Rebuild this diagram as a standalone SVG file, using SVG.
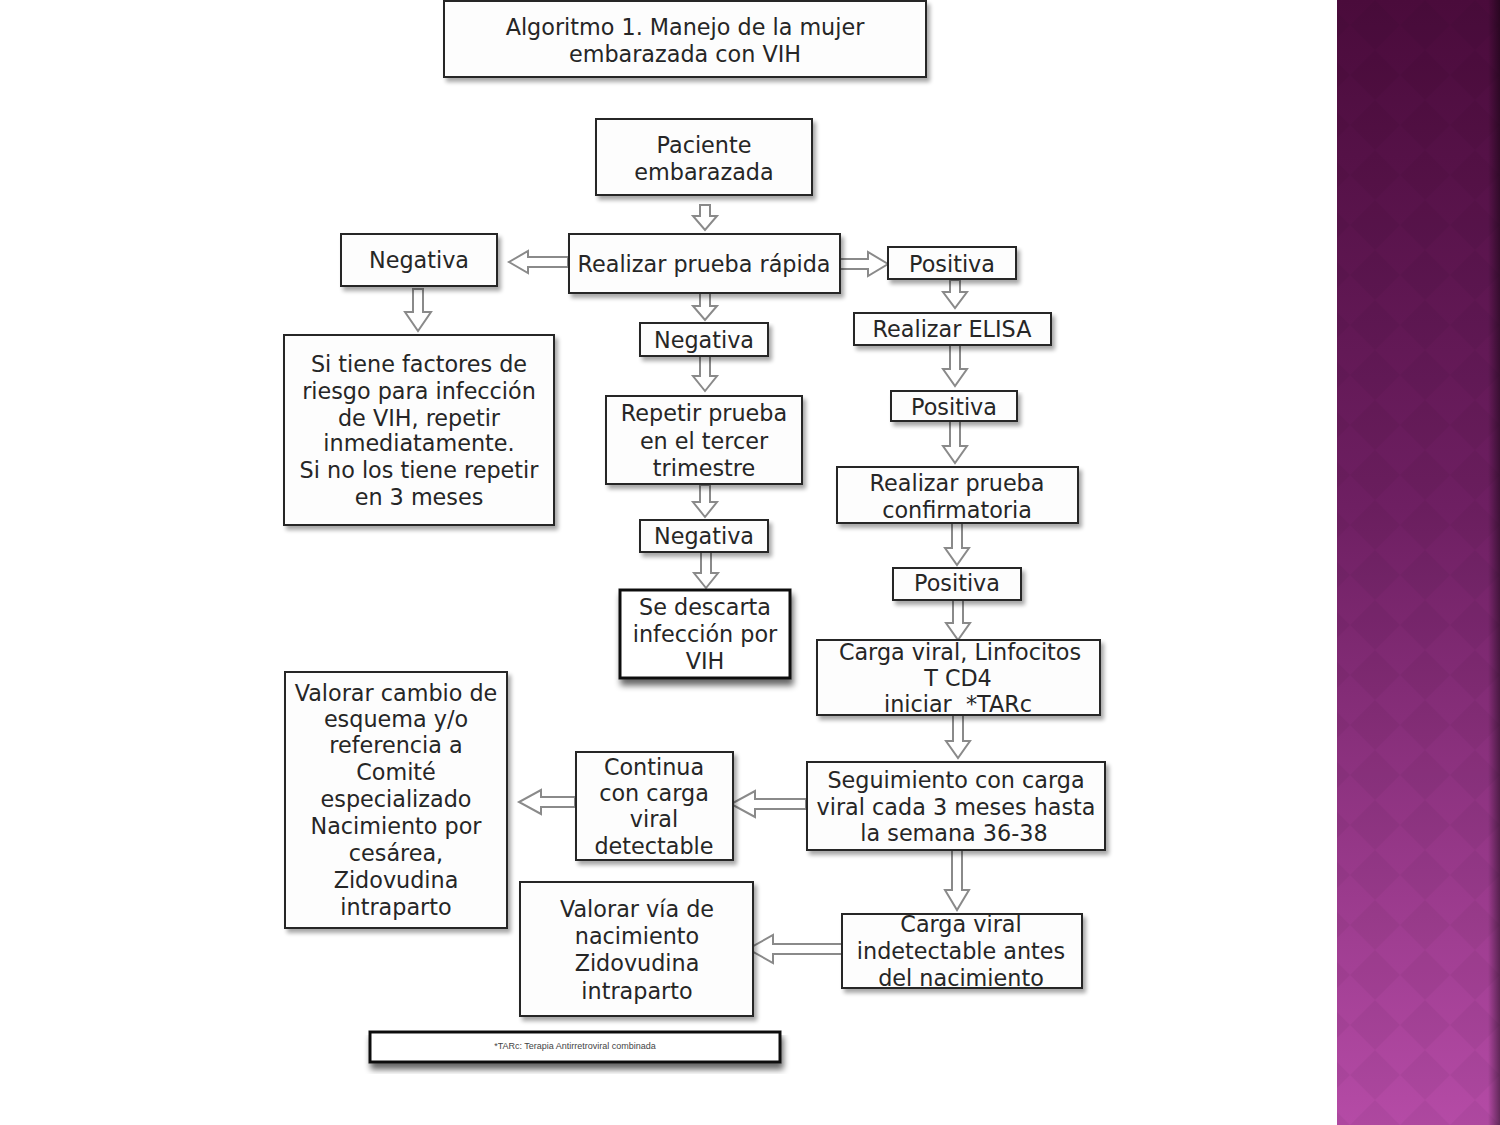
<svg xmlns="http://www.w3.org/2000/svg" width="1500" height="1125" viewBox="0 0 1500 1125">
<defs>
<linearGradient id="panelGrad" x1="0" y1="0" x2="0" y2="1">
<stop offset="0" stop-color="#4a0b3b"/>
<stop offset="0.45" stop-color="#6e1f62"/>
<stop offset="1" stop-color="#b54ba6"/>
</linearGradient>
<linearGradient id="edgeGrad" x1="0" y1="0" x2="1" y2="0">
<stop offset="0" stop-color="#000" stop-opacity="0"/>
<stop offset="1" stop-color="#000" stop-opacity="0.45"/>
</linearGradient>
<pattern id="diamonds" width="50" height="50" patternUnits="userSpaceOnUse">
<path d="M25,0 L50,25 L25,50 L0,25 Z" fill="#000" fill-opacity="0.04"/>
</pattern>
<filter id="shadow" x="-10%" y="-10%" width="130%" height="140%">
<feGaussianBlur in="SourceAlpha" stdDeviation="2"/>
<feOffset dx="3" dy="4" result="b"/>
<feComponentTransfer><feFuncA type="linear" slope="0.35"/></feComponentTransfer>
<feMerge><feMergeNode/><feMergeNode in="SourceGraphic"/></feMerge>
</filter>
<filter id="shadow2" x="-10%" y="-10%" width="130%" height="150%">
<feGaussianBlur in="SourceAlpha" stdDeviation="3"/>
<feOffset dx="2" dy="6" result="b"/>
<feComponentTransfer><feFuncA type="linear" slope="0.6"/></feComponentTransfer>
<feMerge><feMergeNode/><feMergeNode in="SourceGraphic"/></feMerge>
</filter>
</defs>
<style>
.box{fill:#fdfdfd;stroke:#262626;stroke-width:2;filter:url(#shadow)}
.boxb{fill:#ffffff;stroke:#111;stroke-width:3;filter:url(#shadow2)}
.t{font-family:"DejaVu Sans","Verdana",sans-serif;font-size:22.3px;fill:#262626;text-anchor:middle;dominant-baseline:central}
.small{font-family:"Liberation Sans",Arial,sans-serif;font-size:9px;fill:#444;text-anchor:middle;dominant-baseline:central}
.arr{fill:#ffffff;stroke:#8a8a8a;stroke-width:2;stroke-linejoin:miter}
</style>
<rect width="1500" height="1125" fill="#ffffff"/>
<g id="panel">
<rect x="1337" y="0" width="163" height="1125" fill="url(#panelGrad)"/>
<rect x="1337" y="0" width="163" height="1125" fill="url(#diamonds)"/>
<rect x="1488" y="0" width="12" height="1125" fill="url(#edgeGrad)"/>
</g>

<g id="connectors">
<path class="arr" d="M700,205 L710,205 L710,216 L717,216 L705,230 L693,216 L700,216 Z"/>
<path class="arr" d="M700,293 L710,293 L710,306 L717,306 L705,320 L693,306 L700,306 Z"/>
<path class="arr" d="M700,356 L710,356 L710,376 L717,376 L705,391 L693,376 L700,376 Z"/>
<path class="arr" d="M700,485 L710,485 L710,502 L717,502 L705,517 L693,502 L700,502 Z"/>
<path class="arr" d="M701,552 L711,552 L711,573 L718,573 L706,588 L694,573 L701,573 Z"/>
<path class="arr" d="M413,289 L423,289 L423,312 L431,312 L418,331 L405,312 L413,312 Z"/>
<path class="arr" d="M950,280 L960,280 L960,292 L967,292 L955,308 L943,292 L950,292 Z"/>
<path class="arr" d="M950,345 L960,345 L960,369 L967,369 L955,386 L943,369 L950,369 Z"/>
<path class="arr" d="M950,421 L960,421 L960,446 L967,446 L955,463 L943,446 L950,446 Z"/>
<path class="arr" d="M952,523 L962,523 L962,548 L969,548 L957,565 L945,548 L952,548 Z"/>
<path class="arr" d="M953,600 L963,600 L963,623 L970,623 L958,640 L946,623 L953,623 Z"/>
<path class="arr" d="M953,715 L963,715 L963,741 L970,741 L958,758 L946,741 L953,741 Z"/>
<path class="arr" d="M952,850 L962,850 L962,890 L969,890 L957,910 L945,890 L952,890 Z"/>
<path class="arr" d="M568,257 L568,267 L528,267 L528,273 L509,262 L528,251 L528,257 Z"/>
<path class="arr" d="M838,259 L838,269 L868,269 L868,276 L888,264 L868,252 L868,259 Z"/>
<path class="arr" d="M806,799 L806,809 L755,809 L755,817 L731,804 L755,791 L755,799 Z"/>
<path class="arr" d="M575,797 L575,807 L541,807 L541,814 L519,802 L541,790 L541,797 Z"/>
<path class="arr" d="M842,944 L842,954 L773,954 L773,963 L748,949 L773,935 L773,944 Z"/>
</g>

<g id="title">
<rect class="box" x="444" y="1" width="482" height="76"/>
<text class="t"><tspan x="685" y="27">Algoritmo 1. Manejo de la mujer</tspan><tspan x="685" y="54">embarazada con VIH</tspan></text>
</g>
<g id="paciente">
<rect class="box" x="596" y="119" width="216" height="76"/>
<text class="t"><tspan x="704" y="145">Paciente</tspan><tspan x="704" y="172">embarazada</tspan></text>
</g>
<g id="prueba-rapida">
<rect class="box" x="569" y="234" width="271" height="59"/>
<text class="t" x="704" y="264">Realizar prueba rápida</text>
</g>
<g id="negativa-izq">
<rect class="box" x="341" y="234" width="156" height="52"/>
<text class="t" x="419" y="260">Negativa</text>
</g>
<g id="factores">
<rect class="box" x="284" y="335" width="270" height="190"/>
<text class="t"><tspan x="419" y="364">Si tiene factores de</tspan><tspan x="419" y="391">riesgo para infección</tspan><tspan x="419" y="418">de VIH, repetir</tspan><tspan x="419" y="443">inmediatamente.</tspan><tspan x="419" y="470">Si no los tiene repetir</tspan><tspan x="419" y="497">en 3 meses</tspan></text>
</g>
<g id="negativa-1">
<rect class="box" x="640" y="323" width="128" height="33"/>
<text class="t" x="704" y="340">Negativa</text>
</g>
<g id="repetir">
<rect class="box" x="606" y="396" width="196" height="88"/>
<text class="t"><tspan x="704" y="413">Repetir prueba</tspan><tspan x="704" y="441">en el tercer</tspan><tspan x="704" y="468">trimestre</tspan></text>
</g>
<g id="negativa-2">
<rect class="box" x="640" y="520" width="128" height="32"/>
<text class="t" x="704" y="536">Negativa</text>
</g>
<g id="descarta">
<rect class="boxb" x="620" y="590" width="170" height="88"/>
<text class="t"><tspan x="705" y="607">Se descarta</tspan><tspan x="705" y="634">infección por</tspan><tspan x="705" y="661">VIH</tspan></text>
</g>
<g id="positiva-1">
<rect class="box" x="888" y="247" width="128" height="32"/>
<text class="t" x="952" y="264">Positiva</text>
</g>
<g id="elisa">
<rect class="box" x="854" y="313" width="197" height="32"/>
<text class="t" x="952" y="329">Realizar ELISA</text>
</g>
<g id="positiva-2">
<rect class="box" x="891" y="391" width="126" height="30"/>
<text class="t" x="954" y="407">Positiva</text>
</g>
<g id="confirmatoria">
<rect class="box" x="837" y="467" width="241" height="56"/>
<text class="t"><tspan x="957" y="483">Realizar prueba</tspan><tspan x="957" y="510">confirmatoria</tspan></text>
</g>
<g id="positiva-3">
<rect class="box" x="893" y="568" width="128" height="32"/>
<text class="t" x="957" y="583">Positiva</text>
</g>
<g id="carga-viral">
<rect class="box" x="817" y="640" width="283" height="75"/>
<text class="t"><tspan x="960" y="652">Carga viral, Linfocitos</tspan><tspan x="958" y="678">T CD4</tspan><tspan x="958" y="704">iniciar&#160; *TARc</tspan></text>
</g>
<g id="seguimiento">
<rect class="box" x="807" y="762" width="298" height="88"/>
<text class="t"><tspan x="956" y="780">Seguimiento con carga</tspan><tspan x="956" y="807">viral cada 3 meses hasta</tspan><tspan x="954" y="833">la semana 36-38</tspan></text>
</g>
<g id="continua">
<rect class="box" x="576" y="752" width="157" height="108"/>
<text class="t"><tspan x="654" y="767">Continua</tspan><tspan x="654" y="793">con carga</tspan><tspan x="654" y="819">viral</tspan><tspan x="654" y="846">detectable</tspan></text>
</g>
<g id="valorar-cambio">
<rect class="box" x="285" y="672" width="222" height="256"/>
<text class="t"><tspan x="396" y="693">Valorar cambio de</tspan><tspan x="396" y="719">esquema y/o</tspan><tspan x="396" y="745">referencia a</tspan><tspan x="396" y="772">Comité</tspan><tspan x="396" y="799">especializado</tspan><tspan x="396" y="826">Nacimiento por</tspan><tspan x="396" y="853">cesárea,</tspan><tspan x="396" y="880">Zidovudina</tspan><tspan x="396" y="907">intraparto</tspan></text>
</g>
<g id="indetectable">
<rect class="box" x="842" y="914" width="240" height="74"/>
<text class="t"><tspan x="961" y="924">Carga viral</tspan><tspan x="961" y="951">indetectable antes</tspan><tspan x="961" y="978">del nacimiento</tspan></text>
</g>
<g id="valorar-via">
<rect class="box" x="520" y="882" width="233" height="134"/>
<text class="t"><tspan x="637" y="909">Valorar vía de</tspan><tspan x="637" y="936">nacimiento</tspan><tspan x="637" y="963">Zidovudina</tspan><tspan x="637" y="991">intraparto</tspan></text>
</g>
<g id="footnote">
<rect class="boxb" x="370" y="1032" width="410" height="30"/>
<text class="small" x="575" y="1046">*TARc: Terapia Antirretroviral combinada</text>
</g>
</svg>
